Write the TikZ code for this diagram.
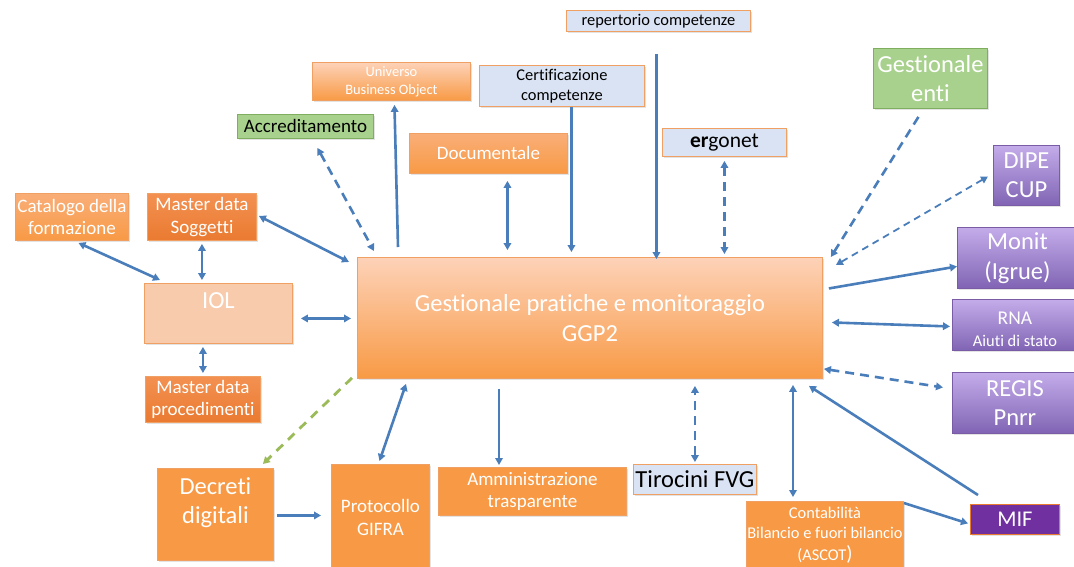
\documentclass[tikz,border=0pt]{standalone}
\usepackage{fontspec}
\setmainfont{Carlito}[Ligatures={NoCommon}]
\usetikzlibrary{arrows.meta,calc,shadows}

\definecolor{linkblue}{HTML}{4A7EBB}
\definecolor{linkgreen}{HTML}{9BBB59}
\definecolor{orpale}{HTML}{FDD2B8}
\definecolor{ormid}{HTML}{F9AE78}
\definecolor{orfull}{HTML}{F89A45}
\definecolor{ordeep}{HTML}{EA7A30}
\definecolor{ordeeptop}{HTML}{F39152}
\definecolor{orborder}{HTML}{F0A062}
\definecolor{peach}{HTML}{F8CBAD}
\definecolor{leaf}{HTML}{A9D18E}
\definecolor{leafborder}{HTML}{7FAF5E}
\definecolor{paleblue}{HTML}{DAE3F3}
\definecolor{violettop}{HTML}{C4ACEA}
\definecolor{violetbot}{HTML}{8064B4}
\definecolor{violetborder}{HTML}{7A5CA6}
\definecolor{plum}{HTML}{7030A0}

\tikzset{
  base/.style={draw, line width=0.9pt, inner sep=0pt, anchor=north west,
    align=center, text=white,
    drop shadow={shadow xshift=1.5pt, shadow yshift=-2pt, opacity=0.22}},
  wh/.style 2 args={minimum width=#1pt, minimum height=#2pt},
  fadeorange/.style={base, draw=orborder, top color=orpale, bottom color=orfull},
  warmorange/.style={base, draw=orborder, top color=ormid, bottom color=orfull},
  deeporange/.style={base, draw=orborder, top color=ordeeptop, bottom color=ordeep},
  flatorange/.style={base, draw=orborder, fill=orfull},
  peachbox/.style={base, draw=orborder, fill=peach},
  greenbox/.style={base, draw=leafborder, fill=leaf},
  bluebox/.style={base, draw=orborder, fill=paleblue, text=black},
  violetbox/.style={base, draw=violetborder, top color=violettop, bottom color=violetbot},
  plumbox/.style={base, draw=ordeep, fill=plum},
  f14/.style={font=\fontsize{14.4}{18}\selectfont},
  f16/.style={font=\fontsize{16.4}{20}\selectfont},
  f18/.style={font=\fontsize{19}{22.5}\selectfont},
  f21/.style={font=\fontsize{21.5}{25}\selectfont},
  f24/.style={font=\fontsize{24.5}{29.5}\selectfont},
  toptext/.style={anchor=north, inner sep=0pt, align=center, text=white},
  link/.style={draw=linkblue, line width=2.6pt},
  thinlink/.style={draw=linkblue, line width=1.8pt},
  dashlink/.style={dash pattern=on 9pt off 6pt},
  finedash/.style={dash pattern=on 7pt off 5pt},
  greenlink/.style={draw=linkgreen, line width=2.8pt, dash pattern=on 9pt off 7pt},
}

\begin{document}
\begin{tikzpicture}[x=1pt, y=-1pt, >={Triangle[length=7pt,width=7.5pt]}]
\useasboundingbox (0,0) rectangle (1074,566);

% ---------- boxes ----------
\node[warmorange, wh={113}{47}, f18] (cat) at (15,193) {Catalogo della\\formazione};
\node[deeporange, wh={109}{47}, f18] (mds) at (147,193) {Master data\\Soggetti};
\node[peachbox, wh={148}{60},
      label={[toptext, f24, yshift=-9pt]north:IOL}] (iol) at (144,283) {};
\node[deeporange, wh={115}{46}, f18] (mdp) at (145,376) {Master data\\procedimenti};

\node[greenbox, wh={136}{24}, f18, text=black] (acc) at (237,114) {Accreditamento};
\node[fadeorange, wh={158}{38}, f14] (ubo) at (312,62) {Universo\\Business Object};
\node[bluebox, wh={165}{41}, f16] (cert) at (479,65) {Certificazione\\competenze};
\node[bluebox, wh={184}{21}, f16] (rep) at (566,10) {repertorio competenze};
\node[warmorange, wh={158}{40}, f18] (doc) at (409,133) {Documentale};
\node[bluebox, wh={124}{28}, f21] (erg) at (662,128) {\textbf{er}gonet};

\node[greenbox, wh={114}{60}, f24] (genti) at (873,48) {Gestionale\\enti};
\node[violetbox, wh={66}{60}, f24] (dipe) at (993,145) {DIPE\\CUP};
\node[violetbox, wh={120}{61}, f24] (monit) at (957,227) {Monit\\(Igrue)};
\node[violetbox, wh={125}{51}, font=\fontsize{16.4}{22}\selectfont,
      text height=43pt] (rna) at (952,299)
  {{\fontsize{19.5}{22}\selectfont RNA}\\Aiuti di stato};
\node[violetbox, wh={125}{61}, f24] (regis) at (952,372) {REGIS\\Pnrr};
\node[plumbox, wh={89}{30}, font=\fontsize{22.5}{26}\selectfont] (mif) at (970,504) {MIF};

\node[fadeorange, wh={465}{121}, f24] (ggp) at (357,257)
  {Gestionale pratiche e monitoraggio\\GGP2};

\node[flatorange, wh={116}{92},
      label={[toptext, f24, yshift=-9pt]north:{Decreti\\digitali}}] (dec) at (157,468) {};
\node[flatorange, wh={98}{106}, f18] (prot) at (331,464) {Protocollo\\GIFRA};
\node[flatorange, wh={188}{48}, f18] (amm) at (438,467) {Amministrazione\\trasparente};
\node[bluebox, wh={123}{30}, f24] (tir) at (633,464) {Tirocini FVG};
\node[flatorange, wh={157}{70},
      label={[toptext, f16, yshift=-6pt]north:{Contabilità\\Bilancio e fuori bilancio\\[2pt](ASCOT{\fontsize{20.5}{20.5}\selectfont)}}}] (cont) at (746,501) {};

% ---------- connectors around IOL ----------
\draw[link, <->] ($(cat.south)+(6.5,2)$) -- ($(iol.north west)+(16,-3)$);
\draw[link, <->] ($(mds.south)+(0,3)$) -- ($(mds.south |- iol.north)+(0,-3)$);
\draw[link, <->] ($(mdp.north |- iol.south)+(0,3)$) -- ($(mdp.north)+(0,-3)$);
\draw[link, <->] ($(iol.east)+(8,5)$) -- ($(ggp.west)+(-6,0.5)$);
\draw[link, <->] ($(mds.east)+(2,-1)$) -- ($(ggp.north west)+(-8,5)$);

% ---------- connectors above GGP2 ----------
\draw[link, dashlink, <->] ($(acc.south)+(12,9)$) -- ($(ggp.north west)+(17,-6)$);
\draw[link, ->] ($(ggp.north west)+(41,-10)$) -- ($(ubo.south)+(3,4)$);
\draw[link, <->] ($(doc.south)+(19,7)$) -- ($(doc.south |- ggp.north)+(19,-7)$);
\draw[link, ->] ($(cert.south)+(9.5,0)$) -- ($(cert.south |- ggp.north)+(9.5,-5)$);
\draw[link, ->] ($(rep.south)+(-2,22)$) -- ($(rep.south |- ggp.north)+(-2,2)$);
\draw[link, dashlink, <->] ($(erg.south)+(0,4)$) -- ($(erg.south |- ggp.north)+(0,-3)$);

% ---------- connectors on the right ----------
\draw[link, dashlink, ->] ($(genti.south)+(-12,8)$) -- ($(ggp.north east)+(8,0)$);
\draw[thinlink, finedash, <->] ($(dipe.west)+(-5,1)$) -- ($(ggp.north east)+(13,8)$);
\draw[link, ->] ($(ggp.east)+(6,-29.5)$) -- ($(monit.west)+(0,8.5)$);
\draw[link, <->] ($(ggp.east)+(9,4.5)$) -- ($(rna.west)+(-2,1.5)$);
\draw[link, dashlink, <->] ($(ggp.south east)+(1,-10)$) -- ($(regis.west)+(-9,-15.5)$);
\draw[link, ->] ($(mif.north west)+(8,-9)$) -- ($(ggp.south east)+(-14,7)$);

% ---------- connectors below GGP2 ----------
\draw[link, <->] ($(cont.north west)+(47,-4)$) -- ($(cont.north west |- ggp.south)+(47,6)$);
\draw[link, dashlink, <->] ($(tir.north)+(0,-2)$) -- ($(tir.north |- ggp.south)+(0,7)$);
\draw[link, ->] ($(amm.north west |- ggp.south)+(61,10)$) -- ($(amm.north west)+(61,-2)$);
\draw[link, <->] ($(ggp.south west)+(49,5)$) -- ($(prot.north)+(-1,-3)$);
\draw[greenlink, ->] ($(ggp.south west)+(-5,-1)$) -- ($(dec.north east)+(-11,-4)$);
\draw[link, ->] ($(dec.east)+(3,1)$) -- ($(prot.west)+(-10,-2)$);
\draw[link, ->] ($(cont.north east)+(0,2)$) -- ($(mif.west)+(-2,4)$);
\end{tikzpicture}
\end{document}
